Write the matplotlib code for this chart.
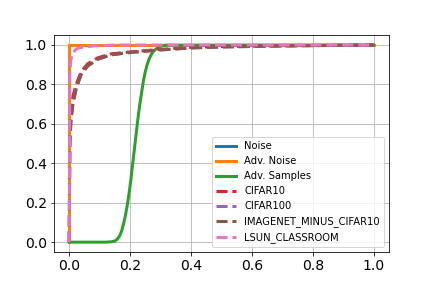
import numpy as np
import matplotlib
matplotlib.use("Agg")
import matplotlib.pyplot as plt

# curves (x = false positive rate, y = true positive rate)
noise_x = [0.0, 0.0, 1.0]
noise_y = [0.0, 1.0, 1.0]

adv_noise_x = [0.0, 0.0, 1.0]
adv_noise_y = [0.0, 1.0, 1.0]

adv_samples_x = [0.0, 0.12, 0.14, 0.15, 0.158, 0.165, 0.172, 0.178, 0.184, 0.19,
                 0.196, 0.202, 0.208, 0.214, 0.22, 0.226, 0.232, 0.238, 0.244,
                 0.25, 0.257, 0.264, 0.272, 0.28, 0.29, 0.3, 0.315, 1.0]
adv_samples_y = [0.0, 0.0, 0.002, 0.006, 0.015, 0.03, 0.055, 0.09, 0.13, 0.18,
                 0.24, 0.31, 0.39, 0.47, 0.55, 0.63, 0.70, 0.76, 0.82,
                 0.865, 0.905, 0.935, 0.958, 0.973, 0.985, 0.993, 0.999, 1.0]

cifar10_x = [0.0, 0.002, 0.006, 0.012, 0.023, 0.039, 0.061, 0.094, 0.137, 0.2, 0.3, 0.4, 0.5, 0.7, 1.0]
cifar10_y = [0.0, 0.55, 0.66, 0.74, 0.80, 0.865, 0.905, 0.935, 0.955, 0.965, 0.978, 0.988, 0.992, 0.996, 1.0]

cifar100_x = [0.0, 0.002, 0.006, 0.012, 0.023, 0.039, 0.061, 0.094, 0.137, 0.2, 0.3, 0.4, 0.5, 0.7, 1.0]
cifar100_y = [0.0, 0.5, 0.62, 0.70, 0.78, 0.85, 0.894, 0.928, 0.95, 0.962, 0.975, 0.985, 0.99, 0.995, 1.0]

imagenet_x = [0.0, 0.002, 0.006, 0.012, 0.023, 0.039, 0.061, 0.094, 0.137, 0.2, 0.3, 0.4, 0.5, 0.7, 1.0]
imagenet_y = [0.0, 0.5, 0.62, 0.70, 0.78, 0.85, 0.894, 0.928, 0.95, 0.962, 0.975, 0.985, 0.99, 0.995, 1.0]

lsun_x = [0.0, 0.002, 0.005, 0.01, 0.02, 0.03, 0.05, 0.08, 0.15, 1.0]
lsun_y = [0.0, 0.85, 0.92, 0.955, 0.975, 0.985, 0.99, 0.995, 1.0, 1.0]

fig = plt.figure(figsize=(6, 4), dpi=72)
ax = fig.add_subplot(1, 1, 1)
fig.subplots_adjust(left=0.125, right=0.9, bottom=0.125, top=0.878)

ax.plot(noise_x, noise_y, color='tab:blue', lw=3, label='Noise')
ax.plot(adv_noise_x, adv_noise_y, color='tab:orange', lw=3, label='Adv. Noise')
ax.plot(adv_samples_x, adv_samples_y, color='tab:green', lw=3, label='Adv. Samples')
ax.plot(cifar10_x, cifar10_y, '--', color='tab:red', lw=3, label='CIFAR10')
ax.plot(cifar100_x, cifar100_y, '--', color='tab:purple', lw=3, label='CIFAR100')
ax.plot(imagenet_x, imagenet_y, '--', color='tab:brown', lw=3, label='IMAGENET_MINUS_CIFAR10')
ax.plot(lsun_x, lsun_y, '--', color='tab:pink', lw=3, label='LSUN_CLASSROOM')

ax.set_xlim(-0.05, 1.05)
ax.set_ylim(-0.05, 1.05)
ax.grid(True)
ax.tick_params(labelsize=14)
ax.legend(loc='lower right', fontsize=10)

fig.savefig('out.png', dpi=72)
